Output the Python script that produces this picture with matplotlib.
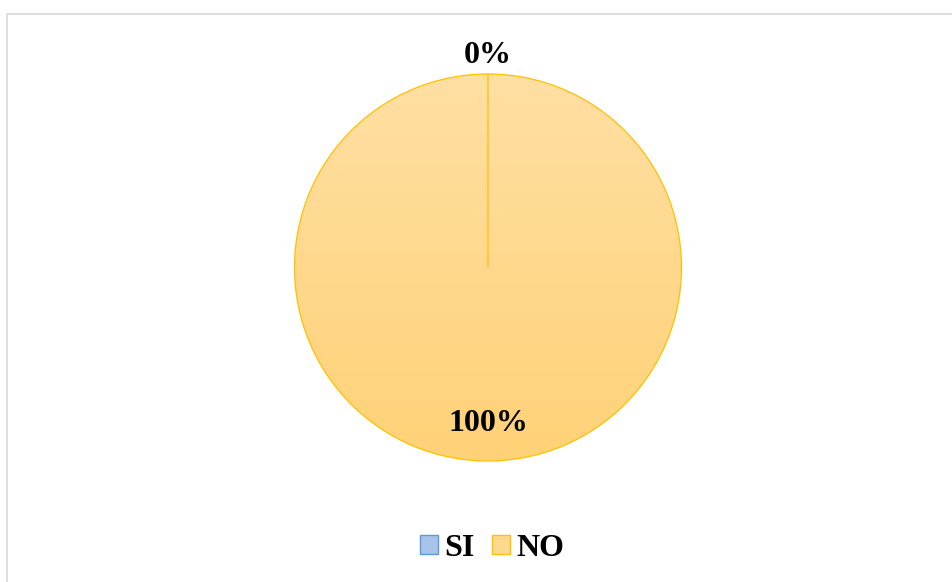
import numpy as np
import matplotlib
matplotlib.use("Agg")
import matplotlib.pyplot as plt
from matplotlib.patches import Patch, Rectangle
from matplotlib.colors import LinearSegmentedColormap

# Survey answers
categories = ["SI", "NO"]
values = [0, 100]
labels = ["0%", "100%"]

W, H = 953, 582
fig = plt.figure(figsize=(W / 100, H / 100), dpi=100)
ax = fig.add_axes([0, 0, 1, 1])

# Chart area border (runs off the right and bottom edges)
fig.patches.append(Rectangle((7.5, -10), W + 20, H - 13.5 + 10,
                             transform=ax.transData, fill=False,
                             edgecolor="#D9D9D9", linewidth=1.2))

cx, cy, r = 488, H - 267.5, 193.5
face_colors = ["#A9C4EA", "#FFD98E"]
edge_colors = ["#5B9BD5", "#FFC000"]
gradients = [("#BDD3F0", "#9DBBE6"), ("#FFDFA3", "#FFD277")]
slice_border = "#FFC000"

wedges, _ = ax.pie(values, center=(cx, cy), radius=r, startangle=90,
                   counterclock=False, normalize=True,
                   wedgeprops=dict(linewidth=0.9), frame=True)
ax.set_xlim(0, W)
ax.set_ylim(0, H)
ax.axis("off")

for w, (c_top, c_bot) in zip(wedges, gradients):
    w.set_facecolor("none")
    w.set_edgecolor(slice_border)
    w.set_zorder(3)
    cmap = LinearSegmentedColormap.from_list("g", [c_bot, c_top])
    grad = np.linspace(0, 1, 256).reshape(-1, 1)
    im = ax.imshow(grad, cmap=cmap, origin="lower", aspect="auto",
                   extent=(cx - r, cx + r, cy - r, cy + r), zorder=2,
                   interpolation="bilinear")
    im.set_clip_path(w)
ax.set_xlim(0, W)
ax.set_ylim(0, H)

# Data labels: zero slice outside at the top, others inside
total = sum(values)
start = 90.0
for v, lab in zip(values, labels):
    sweep = 360.0 * v / total
    mid = np.deg2rad(start - sweep / 2)
    dist = 1.057 if v == 0 else 0.845
    ax.text(cx + dist * r * np.cos(mid), cy + dist * r * np.sin(mid), lab,
            ha="center", va="baseline", fontsize=23, fontweight="bold",
            family="Liberation Serif", color="black", zorder=5)
    start -= sweep

handles = [Patch(facecolor=fc, edgecolor=ec, linewidth=1.0)
           for fc, ec in zip(face_colors, edge_colors)]
fig.legend(handles, categories, loc="center", bbox_to_anchor=(492.5 / W, 1 - 548 / H),
           ncol=2, frameon=False, handlelength=0.54, handleheight=0.54,
           handletextpad=0.22, columnspacing=0.55,
           prop=dict(family="Liberation Serif", weight="bold", size=23))

fig.savefig("out.png", dpi=100)
